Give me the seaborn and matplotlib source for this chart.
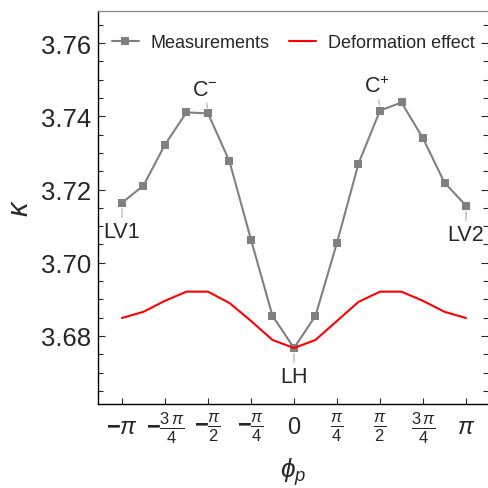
import numpy as np
import pandas as pd
import matplotlib
matplotlib.use("Agg")
import matplotlib.pyplot as plt
import seaborn as sns
from matplotlib.ticker import MultipleLocator, FixedLocator

# ---- data ----
phi_eighths = [-8, -7, -6, -5, -4, -3, -2, -1, 0, 1, 2, 3, 4, 5, 6, 7, 8]
measurements = [3.7164, 3.7211, 3.7323, 3.7411, 3.7408, 3.7277, 3.7063, 3.6855,
                3.6767, 3.6855, 3.7055, 3.7271, 3.7416, 3.7438, 3.7340, 3.7219, 3.7156]
deformation = [3.6849, 3.6866, 3.6896, 3.6921, 3.6921, 3.6890, 3.6841, 3.6789,
               3.6767, 3.6789, 3.6841, 3.6893, 3.6921, 3.6921, 3.6896, 3.6866, 3.6849]
tick_quarters = [-4, -3, -2, -1, 0, 1, 2, 3, 4]
tick_labels = [r'$\mathbf{-}\pi$', r'$\mathbf{-}\frac{3\,\pi}{4}$', r'$\mathbf{-}\frac{\pi}{2}$',
               r'$\mathbf{-}\frac{\pi}{4}$', r'$0$',
               r'$\frac{\pi}{4}$', r'$\frac{\pi}{2}$', r'$\frac{3\,\pi}{4}$', r'$\pi$']
annotations = [("LV1", 0, "below"), (r"C$^{-}$", 4, "above"), ("LH", 8, "below"),
               (r"C$^{+}$", 12, "above"), ("LV2", 16, "below")]

phi = np.array(phi_eighths) * np.pi / 8
df = pd.DataFrame({"phi": phi, "meas": measurements, "deform": deformation})

sns.set_style("ticks")
plt.rcParams['font.family'] = ['Liberation Sans', 'DejaVu Sans']
plt.rcParams['mathtext.fontset'] = 'custom'
plt.rcParams['mathtext.rm'] = 'Liberation Sans'
plt.rcParams['mathtext.it'] = 'Liberation Sans:italic'
plt.rcParams['mathtext.bf'] = 'Liberation Sans:bold'

fig = plt.figure(figsize=(4.89, 4.89), dpi=100)
ax = fig.add_axes([98 / 489, 84 / 489, 390.5 / 489, 393 / 489])

sns.lineplot(data=df, x="phi", y="meas", ax=ax, color="#808080", lw=1.5,
             marker="s", markersize=6.3, markeredgewidth=0, label="Measurements")
sns.lineplot(data=df, x="phi", y="deform", ax=ax, color="red", lw=1.5,
             label="Deformation effect")

ax.set_xlim(-1.1395 * np.pi, 1.1308 * np.pi)
ax.set_ylim(3.6614, 3.7688)

ax.xaxis.set_major_locator(FixedLocator(np.array(tick_quarters) * np.pi / 4))
ax.set_xticklabels(tick_labels, fontsize=17)
for lab in ax.get_xticklabels():
    lab.set_va('center')
ax.yaxis.set_major_locator(MultipleLocator(0.02))
ax.yaxis.set_minor_locator(MultipleLocator(0.005))
ax.set_yticks([3.68, 3.70, 3.72, 3.74, 3.76])
ax.set_yticklabels(["3.68", "3.70", "3.72", "3.74", "3.76"], fontsize=18.5)

ax.tick_params(axis='y', which='both', direction='in', left=True, right=True, pad=5)
ax.tick_params(axis='y', which='major', length=5, width=0.8)
ax.tick_params(axis='y', which='minor', length=3.5, width=0.8)
ax.tick_params(axis='x', which='major', direction='in', length=4, width=0.8, pad=16.5, top=False)

for s in ['left', 'bottom']:
    ax.spines[s].set_color('black')
    ax.spines[s].set_linewidth(1.0)
ax.spines['top'].set_color('#888888')
ax.spines['top'].set_linewidth(0.9)
ax.spines['right'].set_visible(False)

ax.set_xlabel(r'$\phi_p$', fontsize=19, labelpad=8)
ax.set_ylabel(r'$\kappa$', fontsize=21, labelpad=5)

for text, idx, where in annotations:
    xy = (phi[idx], measurements[idx])
    if where == "below":
        off, va = (0, -13), 'top'
    else:
        off, va = (-2, 10), 'bottom'
    ax.annotate(text, xy=xy, xytext=off, textcoords='offset points', ha='center', va=va,
                fontsize=15.5,
                arrowprops=dict(arrowstyle='-', color='#aaaaaa', lw=0.8, shrinkA=0, shrinkB=4))

ax.legend(loc='center', bbox_to_anchor=(0.5, 0.9186), ncol=2, frameon=False,
          fontsize=13, handlelength=1.5, handletextpad=0.65, columnspacing=1.1)

fig.savefig("out.png", dpi=100)
